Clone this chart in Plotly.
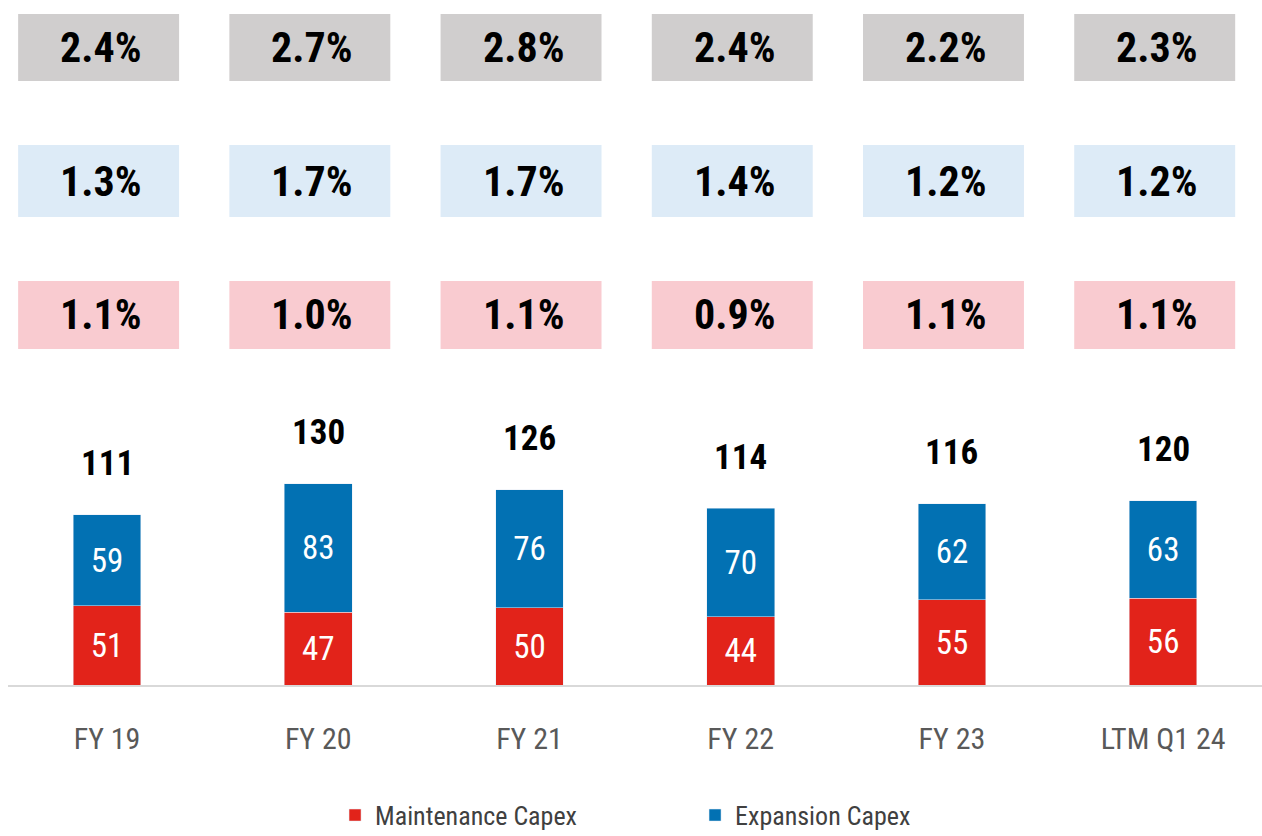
import plotly.graph_objects as go

categories = ["FY 19", "FY 20", "FY 21", "FY 22", "FY 23", "LTM Q1 24"]
maintenance = [51, 47, 50, 44, 55, 56]
expansion = [59, 83, 76, 70, 62, 63]
totals = [111, 130, 126, 114, 116, 120]
pct_total = ["2.4%", "2.7%", "2.8%", "2.4%", "2.2%", "2.3%"]
pct_expansion = ["1.3%", "1.7%", "1.7%", "1.4%", "1.2%", "1.2%"]
pct_maintenance = ["1.1%", "1.0%", "1.1%", "0.9%", "1.1%", "1.1%"]

NARROW = "Liberation Sans Narrow, Arial Narrow, Roboto Condensed, Roboto, sans-serif"
RED = "#E2231A"
BLUE = "#0271B3"

x = list(range(len(categories)))

fig = go.Figure()
fig.add_trace(go.Bar(
    x=x, y=maintenance, name="Maintenance Capex", marker_color=RED,
    width=0.32, text=[str(v) for v in maintenance], textposition="inside",
    insidetextanchor="middle", textangle=0,
    textfont=dict(family=NARROW, size=33, color="white"),
))
fig.add_trace(go.Bar(
    x=x, y=expansion, name="Expansion Capex", marker_color=BLUE,
    width=0.32, text=[str(v) for v in expansion], textposition="inside",
    insidetextanchor="middle", textangle=0,
    textfont=dict(family=NARROW, size=33, color="white"),
))

# totals above bars
for i, t in enumerate(totals):
    top = maintenance[i] + expansion[i]
    fig.add_annotation(x=i, y=top, text=f"<b>{t}</b>", showarrow=False,
                       yanchor="middle", yshift=51,
                       font=dict(family=NARROW, size=35, color="black"))

# percentage boxes
rows = [
    (pct_total, "#D0CECE", 0.8818, 0.9796),
    (pct_expansion, "#DDEBF7", 0.6832, 0.7883),
    (pct_maintenance, "#F9CBD0", 0.4905, 0.5898),
]
for labels, color, y0, y1 in rows:
    for i, lab in enumerate(labels):
        cx = i - 0.04
        fig.add_shape(type="rect", xref="x", yref="paper",
                      x0=cx - 0.381, x1=cx + 0.381, y0=y0, y1=y1,
                      fillcolor=color, line=dict(width=0), layer="below")
        fig.add_annotation(x=cx + 0.01, y=(y0 + y1) / 2, xref="x", yref="paper",
                           xanchor="center", yanchor="middle",
                           text=f"<b>{lab}</b>", showarrow=False,
                           font=dict(family=NARROW, size=42, color="black"))

fig.update_layout(
    width=1262, height=836,
    margin=dict(l=8, r=0, t=0, b=151, autoexpand=False),
    barmode="stack",
    plot_bgcolor="white", paper_bgcolor="white",
    showlegend=True,
    legend=dict(orientation="h", x=0.2608, xanchor="left", y=-0.19, yanchor="middle",
                font=dict(family=NARROW, size=26, color="#404040"),
                itemwidth=30, entrywidth=315, traceorder="normal"),
    xaxis=dict(range=[-0.469, 5.468], tickmode="array", tickvals=x, ticktext=categories,
               showgrid=False, zeroline=False, showline=True, linecolor="#D9D9D9", linewidth=2,
               ticks="outside", ticklen=26, tickcolor="rgba(0,0,0,0)", automargin=False,
               tickfont=dict(family=NARROW, size=30, color="#595959")),
    yaxis=dict(range=[0, 442], visible=False, showgrid=False, zeroline=False, automargin=False),
)

fig.write_html("out.html")
